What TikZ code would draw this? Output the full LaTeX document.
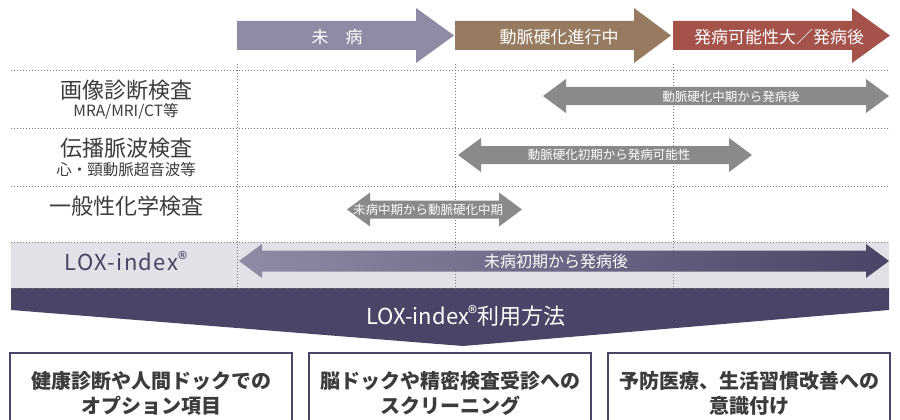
\documentclass[tikz,border=0pt]{standalone}
\usepackage{fontspec}
\setmainfont{Noto Sans CJK JP}
\usetikzlibrary{calc}
\definecolor{cA}{HTML}{8D8CA4}
\definecolor{cB}{HTML}{967B60}
\definecolor{cC}{HTML}{A5524B}
\definecolor{gArr}{HTML}{8A8A8A}
\definecolor{bandc}{HTML}{E1E1E7}
\definecolor{purp}{HTML}{4A4466}
\definecolor{purpL}{HTML}{8E8BA4}
\definecolor{txt}{HTML}{3C3C3C}
\definecolor{dotc}{HTML}{777777}
\newcommand{\topArrow}[4]{%
  \fill[#4] (#1,21) -- (#2,21) -- (#2,8) -- (#3,35.5) -- (#2,63) -- (#2,50) -- (#1,50) -- cycle;}
\newcommand{\dblArrow}[5]{%
  \path[#5] (#1,#3) -- ({#1+23},{#3-17}) -- ({#1+23},{#3-#4}) -- ({#2-23},{#3-#4}) -- ({#2-23},{#3-17}) -- (#2,#3) -- ({#2-23},{#3+17}) -- ({#2-23},{#3+#4}) -- ({#1+23},{#3+#4}) -- ({#1+23},{#3+17}) -- cycle;}
\newcommand{\regmark}[1]{\raisebox{#1}{\fontsize{19}{19}\selectfont ®}}
\begin{document}
\begin{tikzpicture}[x=1pt,y=-1pt,
  lbl/.style={text=txt, inner sep=0pt, font=\fontsize{22}{24}\selectfont},
  sublbl/.style={text=txt, inner sep=0pt, font=\fontsize{15.5}{17}\selectfont},
  toptxt/.style={text=white, inner sep=0pt, font=\fontsize{17}{19}\selectfont},
  arrtxt/.style={text=white, inner sep=0pt, font=\fontsize{12.5}{14}\selectfont},
  dotline/.style={draw=dotc, line width=0.8pt, dash pattern=on 0.8pt off 2.2pt},
  usebox/.style={draw=purp, line width=2pt, minimum width=282pt, minimum height=80pt, inner sep=0pt, align=center, text=txt, font=\bfseries\fontsize{20}{25}\selectfont}]
\useasboundingbox (0,0) rectangle (900,420);
\clip (0,0) rectangle (900,420);
\fill[white] (0,0) rectangle (900,420);
% top arrows
\topArrow{237}{416}{454}{cA}
\topArrow{455}{634}{671}{cB}
\topArrow{673}{852}{890}{cC}
\node[toptxt] (stA) at (337,37) {未　病};
\node[toptxt] (stB) at (559,37) {動脈硬化進行中};
\node[toptxt] (stC) at (779,37) {発病可能性大／発病後};
% band and funnel
\fill[bandc] (11,242) rectangle (889,288);
\fill[purp] (11,288) -- (889,288) -- (889,310) -- (463,346) -- (11,310) -- cycle;
% dotted grid
\foreach \y in {70,128,186,242,288} \draw[dotline] (11,\y) -- (890,\y);
\foreach \x in {237,455,673} \draw[dotline] (\x,64) -- (\x,288);
% range arrows
\dblArrow{543}{889}{96}{9}{fill=gArr}
\dblArrow{458}{752}{155}{9}{fill=gArr}
\dblArrow{347}{522}{209.5}{9}{fill=gArr}
\dblArrow{239}{889}{261}{10.5}{left color=purpL, right color=purp}
\node[arrtxt] (r1) at (731,97) {動脈硬化中期から発病後};
\node[arrtxt] (r2) at (609,155) {動脈硬化初期から発病可能性};
\node[arrtxt] (r3) at (428,210) {未病中期から動脈硬化中期};
\node[text=white, inner sep=0pt, font=\fontsize{16}{18}\selectfont] (r4) at (556,261) {未病初期から発病後};
% row labels
\node[lbl] (l1) at (126,90) {画像診断検査};
\node[sublbl] (l1s) at (126,111) {MRA/MRI/CT等};
\node[lbl] (l2) at (126,148.5) {伝播脈波検査};
\node[sublbl] (l2s) at (126,169.5) {心・頸動脈超音波等};
\node[lbl] (l3) at (126,206) {一般性化学検査};
\node[text=purp, inner sep=0pt, font=\fontsize{22}{24}\selectfont\addfontfeatures{LetterSpace=6}] (l4) at (126,261) {LOX-index\regmark{4pt}};
\node[text=white, inner sep=0pt, font=\fontsize{22}{24}\selectfont] (pt) at (466,316) {LOX-index\regmark{4.5pt}利用方法};
% usage boxes
\node[usebox] (b1) at (151,393) {健康診断や人間ドックでの\\オプション項目};
\node[usebox] (b2) at (450,393) {脳ドックや精密検査受診への\\スクリーニング};
\node[usebox] (b3) at (749,393) {予防医療、生活習慣改善への\\意識付け};
\end{tikzpicture}
\end{document}
